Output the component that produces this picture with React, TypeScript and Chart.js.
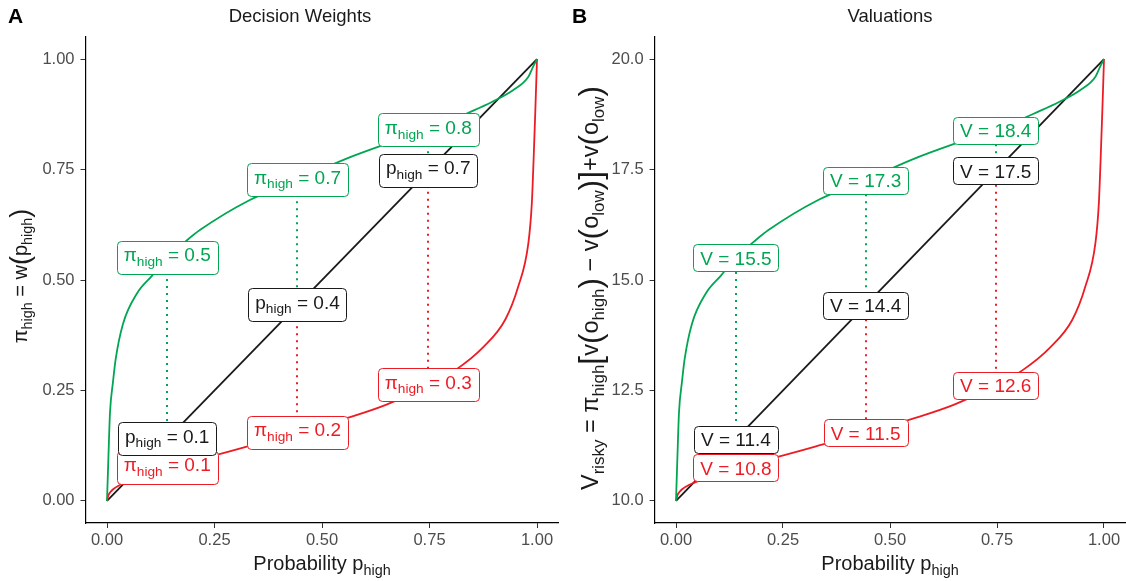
import { useEffect, useRef } from 'react';
import { Chart, registerables } from 'chart.js';

Chart.register(...registerables);

const GREEN = '#00A651';
const RED = '#ED1C24';
const BLACK = '#1A1A1A';
const TICK = '#4D4D4D';
const FONT = '"Liberation Sans", Arial, Helvetica, sans-serif';

// ---------- data ----------
const xTicks = [0, 0.25, 0.5, 0.75, 1];
const yTicksA = [0, 0.25, 0.5, 0.75, 1];
const yTicksB = [10, 12.5, 15, 17.5, 20];

const pIdentity = [0, 1];
const identityA = [0, 1];
const identityB = [10, 20];

const pGreen = [0, 0.003, 0.007, 0.014, 0.02, 0.037, 0.07, 0.105, 0.14, 0.186, 0.216, 0.33, 0.443, 0.55, 0.65, 0.747, 0.844, 0.895, 0.945, 0.98, 0.991, 1];
const greenA = [0, 0.09, 0.2, 0.27, 0.32, 0.4, 0.47, 0.51, 0.55, 0.59, 0.613, 0.68, 0.726, 0.772, 0.808, 0.839, 0.88, 0.903, 0.93, 0.96, 0.983, 1];
const greenB = [10, 10.9, 12.0, 12.7, 13.2, 14.0, 14.7, 15.1, 15.5, 15.9, 16.13, 16.8, 17.26, 17.72, 18.08, 18.39, 18.8, 19.03, 19.3, 19.6, 19.83, 20];

const pRed = [0, 0.003, 0.008, 0.015, 0.03, 0.06, 0.1, 0.14, 0.2, 0.255, 0.325, 0.443, 0.55, 0.65, 0.747, 0.81, 0.875, 0.926, 0.956, 0.98, 0.988, 0.992, 0.996, 1];
const redA = [0, 0.012, 0.02, 0.027, 0.036, 0.048, 0.062, 0.075, 0.09, 0.104, 0.123, 0.154, 0.185, 0.218, 0.262, 0.296, 0.348, 0.41, 0.484, 0.584, 0.674, 0.77, 0.88, 1];
const redB = [10, 10.12, 10.2, 10.27, 10.36, 10.48, 10.62, 10.75, 10.9, 11.04, 11.23, 11.54, 11.85, 12.18, 12.62, 12.96, 13.48, 14.1, 14.84, 15.84, 16.74, 17.7, 18.8, 20];

const labelP = [0.14, 0.443, 0.747];
const greenAtA = [0.55, 0.726, 0.839];
const blackAtA = [0.14, 0.443, 0.747];
const redAtA = [0.075, 0.154, 0.262];
const greenTextA = ['0.5', '0.7', '0.8'];
const blackTextA = ['0.1', '0.4', '0.7'];
const redTextA = ['0.1', '0.2', '0.3'];

const greenAtB = [15.5, 17.26, 18.39];
const blackAtB = [11.4, 14.43, 17.47];
const redAtB = [10.75, 11.54, 12.62];
const greenTextB = ['15.5', '17.3', '18.4'];
const blackTextB = ['11.4', '14.4', '17.5'];
const redTextB = ['10.8', '11.5', '12.6'];

// ---------- rich text ----------
type Part = { t: string; sub?: boolean; big?: boolean };

function partSize(p: Part, F: number) {
  return p.sub ? F * 0.72 : p.big ? F * 1.35 : F;
}
function measureRich(ctx: CanvasRenderingContext2D, parts: Part[], F: number) {
  let w = 0;
  for (const p of parts) {
    ctx.font = `${partSize(p, F)}px ${FONT}`;
    w += ctx.measureText(p.t).width;
  }
  return w;
}
function drawRich(ctx: CanvasRenderingContext2D, parts: Part[], left: number, baseline: number, F: number, color: string) {
  let cx = left;
  ctx.fillStyle = color;
  ctx.textAlign = 'left';
  ctx.textBaseline = 'alphabetic';
  for (const p of parts) {
    ctx.font = `${partSize(p, F)}px ${FONT}`;
    const dy = p.sub ? F * 0.25 : p.big ? F * 0.12 : 0;
    ctx.fillText(p.t, cx, baseline + dy);
    cx += ctx.measureText(p.t).width;
  }
}

function roundRect(ctx: CanvasRenderingContext2D, x: number, y: number, w: number, h: number, r: number) {
  ctx.beginPath();
  ctx.moveTo(x + r, y);
  ctx.lineTo(x + w - r, y);
  ctx.arcTo(x + w, y, x + w, y + r, r);
  ctx.lineTo(x + w, y + h - r);
  ctx.arcTo(x + w, y + h, x + w - r, y + h, r);
  ctx.lineTo(x + r, y + h);
  ctx.arcTo(x, y + h, x, y + h - r, r);
  ctx.lineTo(x, y + r);
  ctx.arcTo(x, y, x + r, y, r);
  ctx.closePath();
}

function drawLabel(ctx: CanvasRenderingContext2D, parts: Part[], cx: number, cy: number, color: string) {
  const F = 19;
  const hasSub = parts.some((p) => p.sub);
  const w = measureRich(ctx, parts, F);
  const asc = 0.72 * F;
  const desc = hasSub ? 6.6 : 0;
  const pad = 6.6;
  const H = asc + desc + pad * 2;
  const W = w + 14;
  const top = cy - H / 2;
  const left = cx - W / 2;
  roundRect(ctx, Math.round(left) + 0.5, Math.round(top) + 0.5, Math.round(W), Math.round(H), 4);
  ctx.fillStyle = '#FFFFFF';
  ctx.fill();
  ctx.lineWidth = 1;
  ctx.strokeStyle = color;
  ctx.stroke();
  drawRich(ctx, parts, left + 7, top + pad + asc, F, color);
}

// ---------- panels ----------
type Panel = {
  yMin: number;
  yMax: number;
  yTicks: number[];
  yDec: number;
  green: number[];
  red: number[];
  identity: number[];
  greenAt: number[];
  blackAt: number[];
  redAt: number[];
  greenText: string[];
  blackText: string[];
  redText: string[];
  isA: boolean;
  title: string;
  titleX: number;
  letter: string;
  letterX: number;
  yTitle: Part[];
  yTitleX: number;
  yTitleY: number;
  yTitleF: number;
  yAxisWidth: number;
  padRight: number;
};

const panelA: Panel = {
  yMin: -0.05, yMax: 1.05, yTicks: yTicksA, yDec: 2,
  green: greenA, red: redA, identity: identityA,
  greenAt: greenAtA, blackAt: blackAtA, redAt: redAtA,
  greenText: greenTextA, blackText: blackTextA, redText: redTextA,
  isA: true, title: 'Decision Weights', titleX: 300, letter: 'A', letterX: 8,
  yTitle: [{ t: 'π' }, { t: 'high', sub: true }, { t: ' = w' }, { t: '(', big: true }, { t: 'p' }, { t: 'high', sub: true }, { t: ')', big: true }],
  yTitleX: 20, yTitleY: 276, yTitleF: 20, yAxisWidth: 85.5, padRight: 4.5,
};

const panelB: Panel = {
  yMin: 9.5, yMax: 20.5, yTicks: yTicksB, yDec: 1,
  green: greenB, red: redB, identity: identityB,
  greenAt: greenAtB, blackAt: blackAtB, redAt: redAtB,
  greenText: greenTextB, blackText: blackTextB, redText: redTextB,
  isA: false, title: 'Valuations', titleX: 327, letter: 'B', letterX: 9,
  yTitle: [
    { t: 'V' }, { t: 'risky', sub: true }, { t: ' = π' }, { t: 'high', sub: true },
    { t: '[', big: true }, { t: 'v' }, { t: '(', big: true }, { t: 'o' }, { t: 'high', sub: true }, { t: ')', big: true },
    { t: ' − v' }, { t: '(', big: true }, { t: 'o' }, { t: 'low', sub: true }, { t: ')', big: true }, { t: ']', big: true },
    { t: '+v' }, { t: '(', big: true }, { t: 'o' }, { t: 'low', sub: true }, { t: ')', big: true },
  ],
  yTitleX: 27, yTitleY: 288, yTitleF: 23.5, yAxisWidth: 91.6, padRight: 0.6,
};

function toXY(xs: number[], ys: number[]) {
  return xs.map((x, i) => ({ x, y: ys[i] }));
}

function makePlugin(P: Panel) {
  return {
    id: 'annot' + P.letter,
    afterDatasetsDraw(chart: any) {
      const ctx: CanvasRenderingContext2D = chart.ctx;
      const xs = chart.scales.x;
      const ys = chart.scales.y;
      ctx.save();
      ctx.lineWidth = 2;
      ctx.setLineDash([2, 5]);
      labelP.forEach((p, i) => {
        const x = Math.round(xs.getPixelForValue(p));
        const yg = ys.getPixelForValue(P.greenAt[i]);
        const yb = ys.getPixelForValue(P.blackAt[i]);
        const yr = ys.getPixelForValue(P.redAt[i]);
        ctx.strokeStyle = GREEN;
        ctx.beginPath();
        ctx.moveTo(x, yg);
        ctx.lineTo(x, yb);
        ctx.stroke();
        ctx.strokeStyle = RED;
        ctx.beginPath();
        ctx.moveTo(x, yb);
        ctx.lineTo(x, yr);
        ctx.stroke();
      });
      ctx.setLineDash([]);
      const mk = (sym: string, txt: string): Part[] =>
        P.isA ? [{ t: sym }, { t: 'high', sub: true }, { t: ' = ' + txt }] : [{ t: 'V = ' + txt }];
      labelP.forEach((p, i) => {
        drawLabel(ctx, mk('π', P.redText[i]), xs.getPixelForValue(p), ys.getPixelForValue(P.redAt[i]), RED);
      });
      labelP.forEach((p, i) => {
        drawLabel(ctx, mk('p', P.blackText[i]), xs.getPixelForValue(p), ys.getPixelForValue(P.blackAt[i]), BLACK);
      });
      labelP.forEach((p, i) => {
        drawLabel(ctx, mk('π', P.greenText[i]), xs.getPixelForValue(p), ys.getPixelForValue(P.greenAt[i]), GREEN);
      });
      ctx.restore();
    },
    afterDraw(chart: any) {
      const ctx: CanvasRenderingContext2D = chart.ctx;
      const area = chart.chartArea;
      ctx.save();
      ctx.font = `bold 21px ${FONT}`;
      ctx.fillStyle = '#000';
      ctx.textAlign = 'left';
      ctx.textBaseline = 'alphabetic';
      ctx.fillText(P.letter, P.letterX, 23);
      ctx.font = `18.5px ${FONT}`;
      ctx.textAlign = 'center';
      ctx.fillStyle = '#1A1A1A';
      ctx.fillText(P.title, P.titleX, 22);
      const xt: Part[] = [{ t: 'Probability p' }, { t: 'high', sub: true }];
      const wx = measureRich(ctx, xt, 20);
      drawRich(ctx, xt, (area.left + area.right) / 2 - wx / 2, 570, 20, '#1A1A1A');
      const F = P.yTitleF;
      const wy = measureRich(ctx, P.yTitle, F);
      ctx.translate(P.yTitleX, P.yTitleY);
      ctx.rotate(-Math.PI / 2);
      drawRich(ctx, P.yTitle, -wy / 2, F * 0.35, F, '#1A1A1A');
      ctx.restore();
    },
  };
}

function makeConfig(P: Panel): any {
  return {
    type: 'scatter',
    data: {
      datasets: [
        { data: toXY(pGreen, P.green), borderColor: GREEN, borderWidth: 1.8, showLine: true, pointRadius: 0, cubicInterpolationMode: 'monotone' },
        { data: toXY(pRed, P.red), borderColor: RED, borderWidth: 1.8, showLine: true, pointRadius: 0, cubicInterpolationMode: 'monotone' },
        { data: toXY(pIdentity, P.identity), borderColor: BLACK, borderWidth: 1.8, showLine: true, pointRadius: 0 },
      ],
    },
    options: {
      animation: false,
      responsive: false,
      devicePixelRatio: 1,
      layout: { padding: { left: 0, right: P.padRight, top: 37, bottom: 0 } },
      plugins: { legend: { display: false }, tooltip: { enabled: false }, title: { display: false } },
      scales: {
        x: {
          type: 'linear',
          min: -0.05,
          max: 1.05,
          afterBuildTicks: (s: any) => { s.ticks = xTicks.map((v) => ({ value: v })); },
          afterFit: (s: any) => { s.height = 58; },
          ticks: { color: TICK, font: { family: FONT, size: 16.5 }, padding: 3, autoSkip: false, maxRotation: 0, callback: (v: any) => Number(v).toFixed(2) },
          grid: { drawOnChartArea: false, drawTicks: true, tickLength: 5, color: '#333333', lineWidth: 1 },
          border: { display: true, color: '#000000', width: 1.2 },
        },
        y: {
          type: 'linear',
          min: P.yMin,
          max: P.yMax,
          afterBuildTicks: (s: any) => { s.ticks = P.yTicks.map((v) => ({ value: v })); },
          afterFit: (s: any) => { s.width = P.yAxisWidth; },
          ticks: { color: TICK, font: { family: FONT, size: 16.5 }, padding: 6, autoSkip: false, callback: (v: any) => Number(v).toFixed(P.yDec) },
          grid: { drawOnChartArea: false, drawTicks: true, tickLength: 5, color: '#333333', lineWidth: 1 },
          border: { display: true, color: '#000000', width: 1.2 },
        },
      },
    },
    plugins: [makePlugin(P)],
  };
}

function PanelChart({ P, left }: { P: Panel; left: number }) {
  const ref = useRef<HTMLCanvasElement | null>(null);
  useEffect(() => {
    if (!ref.current) return;
    const chart = new Chart(ref.current, makeConfig(P));
    return () => chart.destroy();
  }, [P]);
  return (
    <canvas
      ref={ref}
      width={563}
      height={581}
      style={{ position: 'absolute', left, top: 0, width: 563, height: 581 }}
    />
  );
}

export default function App() {
  return (
    <div style={{ position: 'fixed', left: 0, top: 0, width: 1126, height: 581, background: '#FFFFFF', overflow: 'hidden' }}>
      <PanelChart P={panelA} left={0} />
      <PanelChart P={panelB} left={563} />
    </div>
  );
}
